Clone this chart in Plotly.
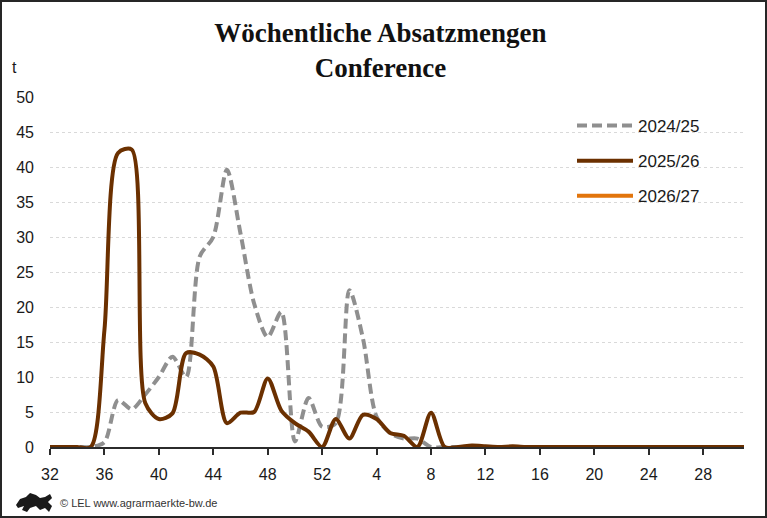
import plotly.graph_objects as go

# Kalenderwochen (Saison KW 32 bis KW 31)
weeks = [str(w) for w in range(32, 53)] + [str(w) for w in range(1, 32)]

# Absatzmengen in t
sales_2024_25 = [
    0, 0, 0, 0, 0.7, 6.7, 5.4, 7.5, 10.0, 12.9, 10.0, 27.2, 30.0, 39.6,
    30.5, 20.5, 15.7, 19.3, 0.8, 7.0, 2.9,
    3.4, 22.4, 15.5, 4.3, 2.0, 1.2, 1.2, 0, 0, 0, 0, 0, 0, 0, 0, 0, 0,
    0, 0, 0, 0, 0, 0, 0, 0, 0, 0, 0, 0, 0, 0,
]
sales_2025_26 = [
    0, 0, 0, 0, 16.7, 42.0, 42.5, 6.3, 4.0, 4.8, 13.4, 13.2, 11.5, 3.4,
    4.9, 5.0, 9.8, 5.2, 3.4, 2.2, 0,
    4.0, 1.2, 4.6, 4.0, 2.0, 1.6, 0, 4.9, 0, 0, 0.2, 0.1, 0, 0.1, 0, 0, 0,
    0, 0, 0, 0, 0, 0, 0, 0, 0, 0, 0, 0, 0, 0,
]
sales_2026_27 = [None] * len(weeks)

tick_weeks = ["32", "36", "40", "44", "48", "52", "4", "8", "12", "16",
              "20", "24", "28"]

W, H = 767, 518
M_L, M_R, M_T, M_B = 50, 23, 97, 71
PW, PH = W - M_L - M_R, H - M_T - M_B


def px_x(px):
    return (px - M_L) / PW


def px_y(py):
    return (H - M_B - py) / PH


fig = go.Figure()
fig.add_trace(go.Scatter(
    x=weeks, y=sales_2024_25, name="2024/25", mode="lines",
    line=dict(color="#8f8f8f", width=4, dash="10px,5px",
              shape="spline", smoothing=0.8),
    legendgroup="a",
))
fig.add_trace(go.Scatter(
    x=weeks, y=sales_2025_26, name="2025/26", mode="lines",
    line=dict(color="#6b3000", width=4, shape="spline", smoothing=0.8),
    legendgroup="b",
))
fig.add_trace(go.Scatter(
    x=weeks, y=sales_2026_27, name="2026/27", mode="lines",
    line=dict(color="#e2750c", width=4, shape="spline", smoothing=0.8),
    legendgroup="c",
))

fig.update_layout(
    width=W, height=H,
    margin=dict(l=M_L, r=M_R, t=M_T, b=M_B),
    paper_bgcolor="white", plot_bgcolor="white",
    font=dict(family="Liberation Sans", size=16, color="#1a1a1a"),
    title=dict(
        text="<b>Wöchentliche Absatzmengen</b><br><b>Conference</b>",
        font=dict(family="Liberation Serif", size=27, color="#111111"),
        x=0.496, xanchor="center", xref="container",
        y=1 - 42 / H, yanchor="top", yref="container",
    ),
    legend=dict(
        x=px_x(572), y=px_y(108), xanchor="left", yanchor="top",
        font=dict(size=17, color="#1a1a1a"),
        bgcolor="rgba(0,0,0,0)", tracegroupgap=10, itemwidth=56,
    ),
    xaxis=dict(
        type="category", range=[0, len(weeks) - 1],
        tickmode="array", tickvals=tick_weeks, ticktext=tick_weeks,
        showgrid=False, showline=True, linecolor="#2b2b2b", linewidth=2,
        ticks="outside", ticklen=6, tickwidth=2, tickcolor="#2b2b2b",
        ticklabelstandoff=6, zeroline=False,
    ),
    yaxis=dict(
        range=[0, 50], dtick=5, showgrid=True, gridcolor="#d9d9d9",
        griddash="dot", gridwidth=1, zeroline=False, showline=False,
        ticks="", ticklabelstandoff=15,
    ),
    showlegend=True,
)

fig.add_annotation(
    text="t", x=px_x(10), y=px_y(68), xref="paper", yref="paper",
    xanchor="left", yanchor="middle", showarrow=False,
    font=dict(size=16, color="#1a1a1a"),
)
fig.add_annotation(
    text="© LEL www.agrarmaerkte-bw.de", x=px_x(58), y=px_y(503),
    xref="paper", yref="paper", xanchor="left", yanchor="middle",
    showarrow=False, font=dict(size=11, color="#333333"),
)

# Lion logo (rough silhouette)
lion = [(16, 505), (20, 499), (26, 497), (30, 493), (36, 495), (40, 498),
        (45, 497), (50, 494), (52, 498), (48, 502), (52, 506), (49, 512),
        (45, 508), (40, 510), (36, 506), (30, 508), (27, 512), (22, 510),
        (24, 506), (18, 508)]
path = "M " + " L ".join(f"{px_x(a):.4f},{px_y(b):.4f}" for a, b in lion) + " Z"
fig.add_shape(type="path", path=path, xref="paper", yref="paper",
              fillcolor="#1a1a1a", line=dict(width=0))

# Outer frame
fig.add_shape(type="rect", xref="paper", yref="paper",
              x0=px_x(1), x1=px_x(W - 1), y0=px_y(H - 1), y1=px_y(1),
              line=dict(color="#262626", width=2), fillcolor="rgba(0,0,0,0)")

fig.write_html("out.html", config={"displayModeBar": False},
               post_script="document.body.style.margin='0';")
